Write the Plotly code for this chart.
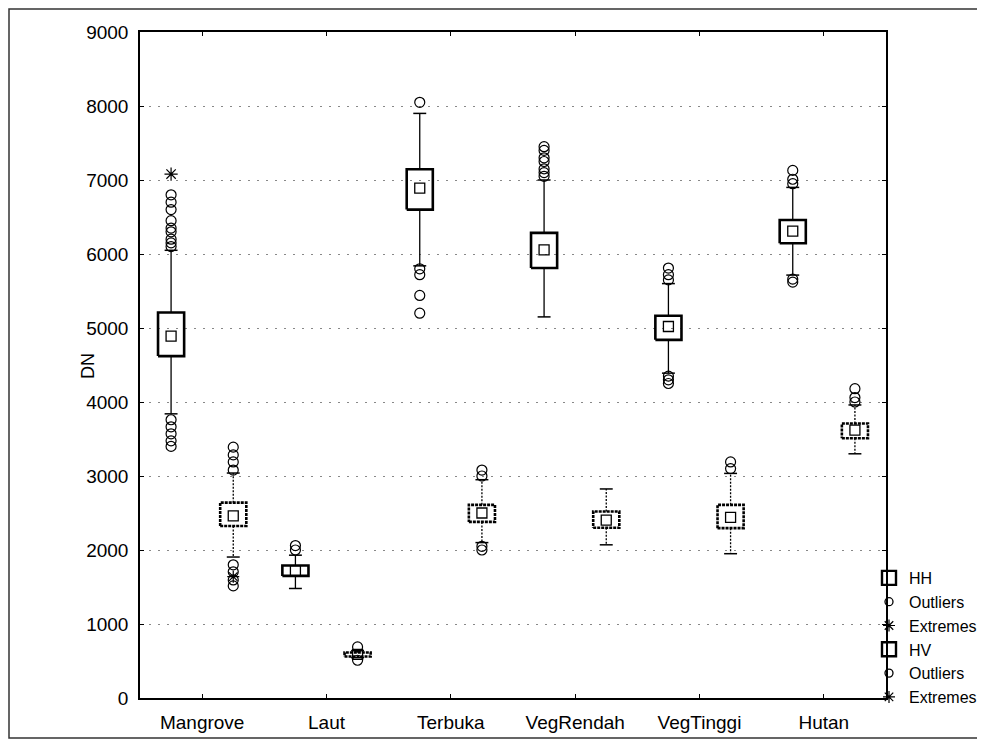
import plotly.graph_objects as go

categories = ["Mangrove", "Laut", "Terbuka", "VegRendah", "VegTinggi", "Hutan"]
y_ticks = [0, 1000, 2000, 3000, 4000, 5000, 6000, 7000, 8000, 9000]

# HH series (median, quartiles, non-outlier range)
hh_q1 = [4620, 1650, 6600, 5810, 4840, 6145]
hh_med = [4890, 1720, 6890, 6055, 5020, 6310]
hh_q3 = [5210, 1790, 7145, 6285, 5165, 6460]
hh_lo = [3840, 1480, 5840, 5150, 4390, 5715]
hh_hi = [6050, 1930, 7900, 7000, 5600, 6900]
hh_outliers = [
    [3760, 3665, 3570, 3475, 3400, 6100, 6150, 6200, 6300, 6350, 6450, 6600, 6700, 6800],
    [2000, 2060],
    [5800, 5720, 5440, 5200, 8050],
    [7050, 7100, 7150, 7250, 7300, 7400, 7450],
    [5650, 5720, 5810, 4350, 4300, 4250],
    [6950, 7010, 7130, 5660, 5620],
]
hh_extremes = [[7080], [], [], [], [], []]

# HV series
hv_q1 = [2325, 560, 2380, 2300, 2295, 3510]
hv_med = [2460, 590, 2500, 2405, 2440, 3620]
hv_q3 = [2640, 615, 2610, 2520, 2610, 3710]
hv_lo = [1905, 545, 2100, 2070, 1950, 3300]
hv_hi = [3040, 640, 2950, 2825, 3035, 3960]
hv_outliers = [
    [3080, 3190, 3285, 3390, 1800, 1705, 1595, 1515],
    [690, 510],
    [3000, 3080, 2050, 2000],
    [],
    [3100, 3190],
    [4000, 4060, 4180],
]
hv_extremes = [[1640], [], [], [], [], []]

OFFSET = 0.25
HALF_W = 0.105
CAP = 0.052

fig = go.Figure()


def add_series(name, off, q1, med, q3, lo, hi, outs, exts, box_dash, whisk_dash, ext_size):
    bx, by, wx, wy, cx, cy = [], [], [], [], [], []
    for i in range(len(categories)):
        x = i + off
        bx += [x - HALF_W, x + HALF_W, x + HALF_W, x - HALF_W, x - HALF_W, None]
        by += [q1[i], q1[i], q3[i], q3[i], q1[i], None]
        wx += [x, x, None, x, x, None]
        wy += [q3[i], hi[i], None, q1[i], lo[i], None]
        cx += [x - CAP, x + CAP, None, x - CAP, x + CAP, None]
        cy += [hi[i], hi[i], None, lo[i], lo[i], None]
    fig.add_trace(go.Scatter(x=wx, y=wy, mode="lines", showlegend=False,
                             line=dict(color="black", width=1.3, dash=whisk_dash)))
    fig.add_trace(go.Scatter(x=cx, y=cy, mode="lines", showlegend=False,
                             line=dict(color="black", width=1.5)))
    fig.add_trace(go.Scatter(x=bx, y=by, mode="lines", showlegend=False,
                             line=dict(color="black", width=2.6, dash=box_dash)))
    fig.add_trace(go.Scatter(x=[i + off for i in range(len(categories))], y=med,
                             mode="markers", showlegend=False,
                             marker=dict(symbol="square-open", size=10, color="black",
                                         line=dict(width=1.3))))
    ox, oy = [], []
    for i, vals in enumerate(outs):
        ox += [i + off] * len(vals)
        oy += vals
    fig.add_trace(go.Scatter(x=ox, y=oy, mode="markers", showlegend=False,
                             marker=dict(symbol="circle-open", size=10, color="black",
                                         line=dict(width=1.2))))
    ex, ey = [], []
    for i, vals in enumerate(exts):
        ex += [i + off] * len(vals)
        ey += vals
    fig.add_trace(go.Scatter(x=ex, y=ey, mode="markers", showlegend=False,
                             marker=dict(symbol="asterisk-open", size=ext_size, color="black",
                                         line=dict(width=1.2, color="black"))))
    # legend entries
    fig.add_trace(go.Scatter(x=[None], y=[None], mode="markers", name=name,
                             legendgroup=name + "b",
                             marker=dict(symbol="square-open", size=14, color="black",
                                         line=dict(width=2.4))))
    fig.add_trace(go.Scatter(x=[None], y=[None], mode="markers", name="Outliers",
                             legendgroup=name + "o",
                             marker=dict(symbol="circle-open", size=8, color="black",
                                         line=dict(width=1.3))))
    fig.add_trace(go.Scatter(x=[None], y=[None], mode="markers", name="Extremes",
                             legendgroup=name + "e",
                             marker=dict(symbol="asterisk-open", size=10, color="black",
                                         line=dict(width=1.2, color="black"))))


add_series("HH", -OFFSET, hh_q1, hh_med, hh_q3, hh_lo, hh_hi, hh_outliers, hh_extremes,
           "solid", "solid", 11)
add_series("HV", OFFSET, hv_q1, hv_med, hv_q3, hv_lo, hv_hi, hv_outliers, hv_extremes,
           "3px,1px", "2px,1.5px", 10)

FONT = "Liberation Sans, Arial, Helvetica, sans-serif"
# page is offset by the 8px body margin; figure coordinates = page - 8
PAGE_OFF = 8
PL, PR, PT, PB = 140, 886, 32, 698          # plot area in page pixels
W, H = 985 - PAGE_OFF, 742 - PAGE_OFF
L, T = PL - PAGE_OFF, PT - PAGE_OFF
R, B = W - (PR - PAGE_OFF), H - (PB - PAGE_OFF)
pw, ph = PR - PL, PB - PT


def px(x):
    return (x - PL) / pw


def py(y):
    return (PB - y) / ph


fig.update_layout(
    width=W, height=H,
    margin=dict(l=L, r=R, t=T, b=B, autoexpand=False),
    paper_bgcolor="white", plot_bgcolor="white",
    font=dict(family=FONT, color="black", size=19),
    showlegend=True,
    legend=dict(x=px(869), xanchor="left", y=py(714), yanchor="bottom",
                bgcolor="rgba(0,0,0,0)", borderwidth=0,
                font=dict(size=16, family=FONT), tracegroupgap=3,
                traceorder="normal", itemwidth=30),
    xaxis=dict(range=[-0.5, 5.5], tickmode="array", tickvals=list(range(len(categories))),
               ticktext=categories, showgrid=False, zeroline=False,
               showline=True, linecolor="black", linewidth=1.5, mirror="ticks",
               ticks="inside", ticklen=4, tickcolor="black", tickwidth=1.2,
               ticklabelstandoff=6, tickfont=dict(size=19)),
    yaxis=dict(range=[0, 9000], tickmode="array", tickvals=y_ticks,
               ticktext=[str(v) for v in y_ticks],
               showgrid=True, gridcolor="#888888", griddash="2px,7px", gridwidth=1,
               zeroline=False, showline=True, linecolor="black", linewidth=1.5,
               mirror="ticks", ticks="inside", ticklen=4, tickcolor="black",
               tickwidth=1.2, ticklabelstandoff=6, tickfont=dict(size=19)),
    annotations=[dict(text="DN", xref="paper", yref="paper", x=px(88),
                      y=py(366), xanchor="center", yanchor="middle",
                      showarrow=False, textangle=-90,
                      font=dict(size=18, family=FONT))],
    shapes=[dict(type="rect", xref="paper", yref="paper",
                 x0=px(9), x1=px(980), y0=py(738), y1=py(9),
                 line=dict(color="#333333", width=1.5))],
)

fig.write_html("out.html")
